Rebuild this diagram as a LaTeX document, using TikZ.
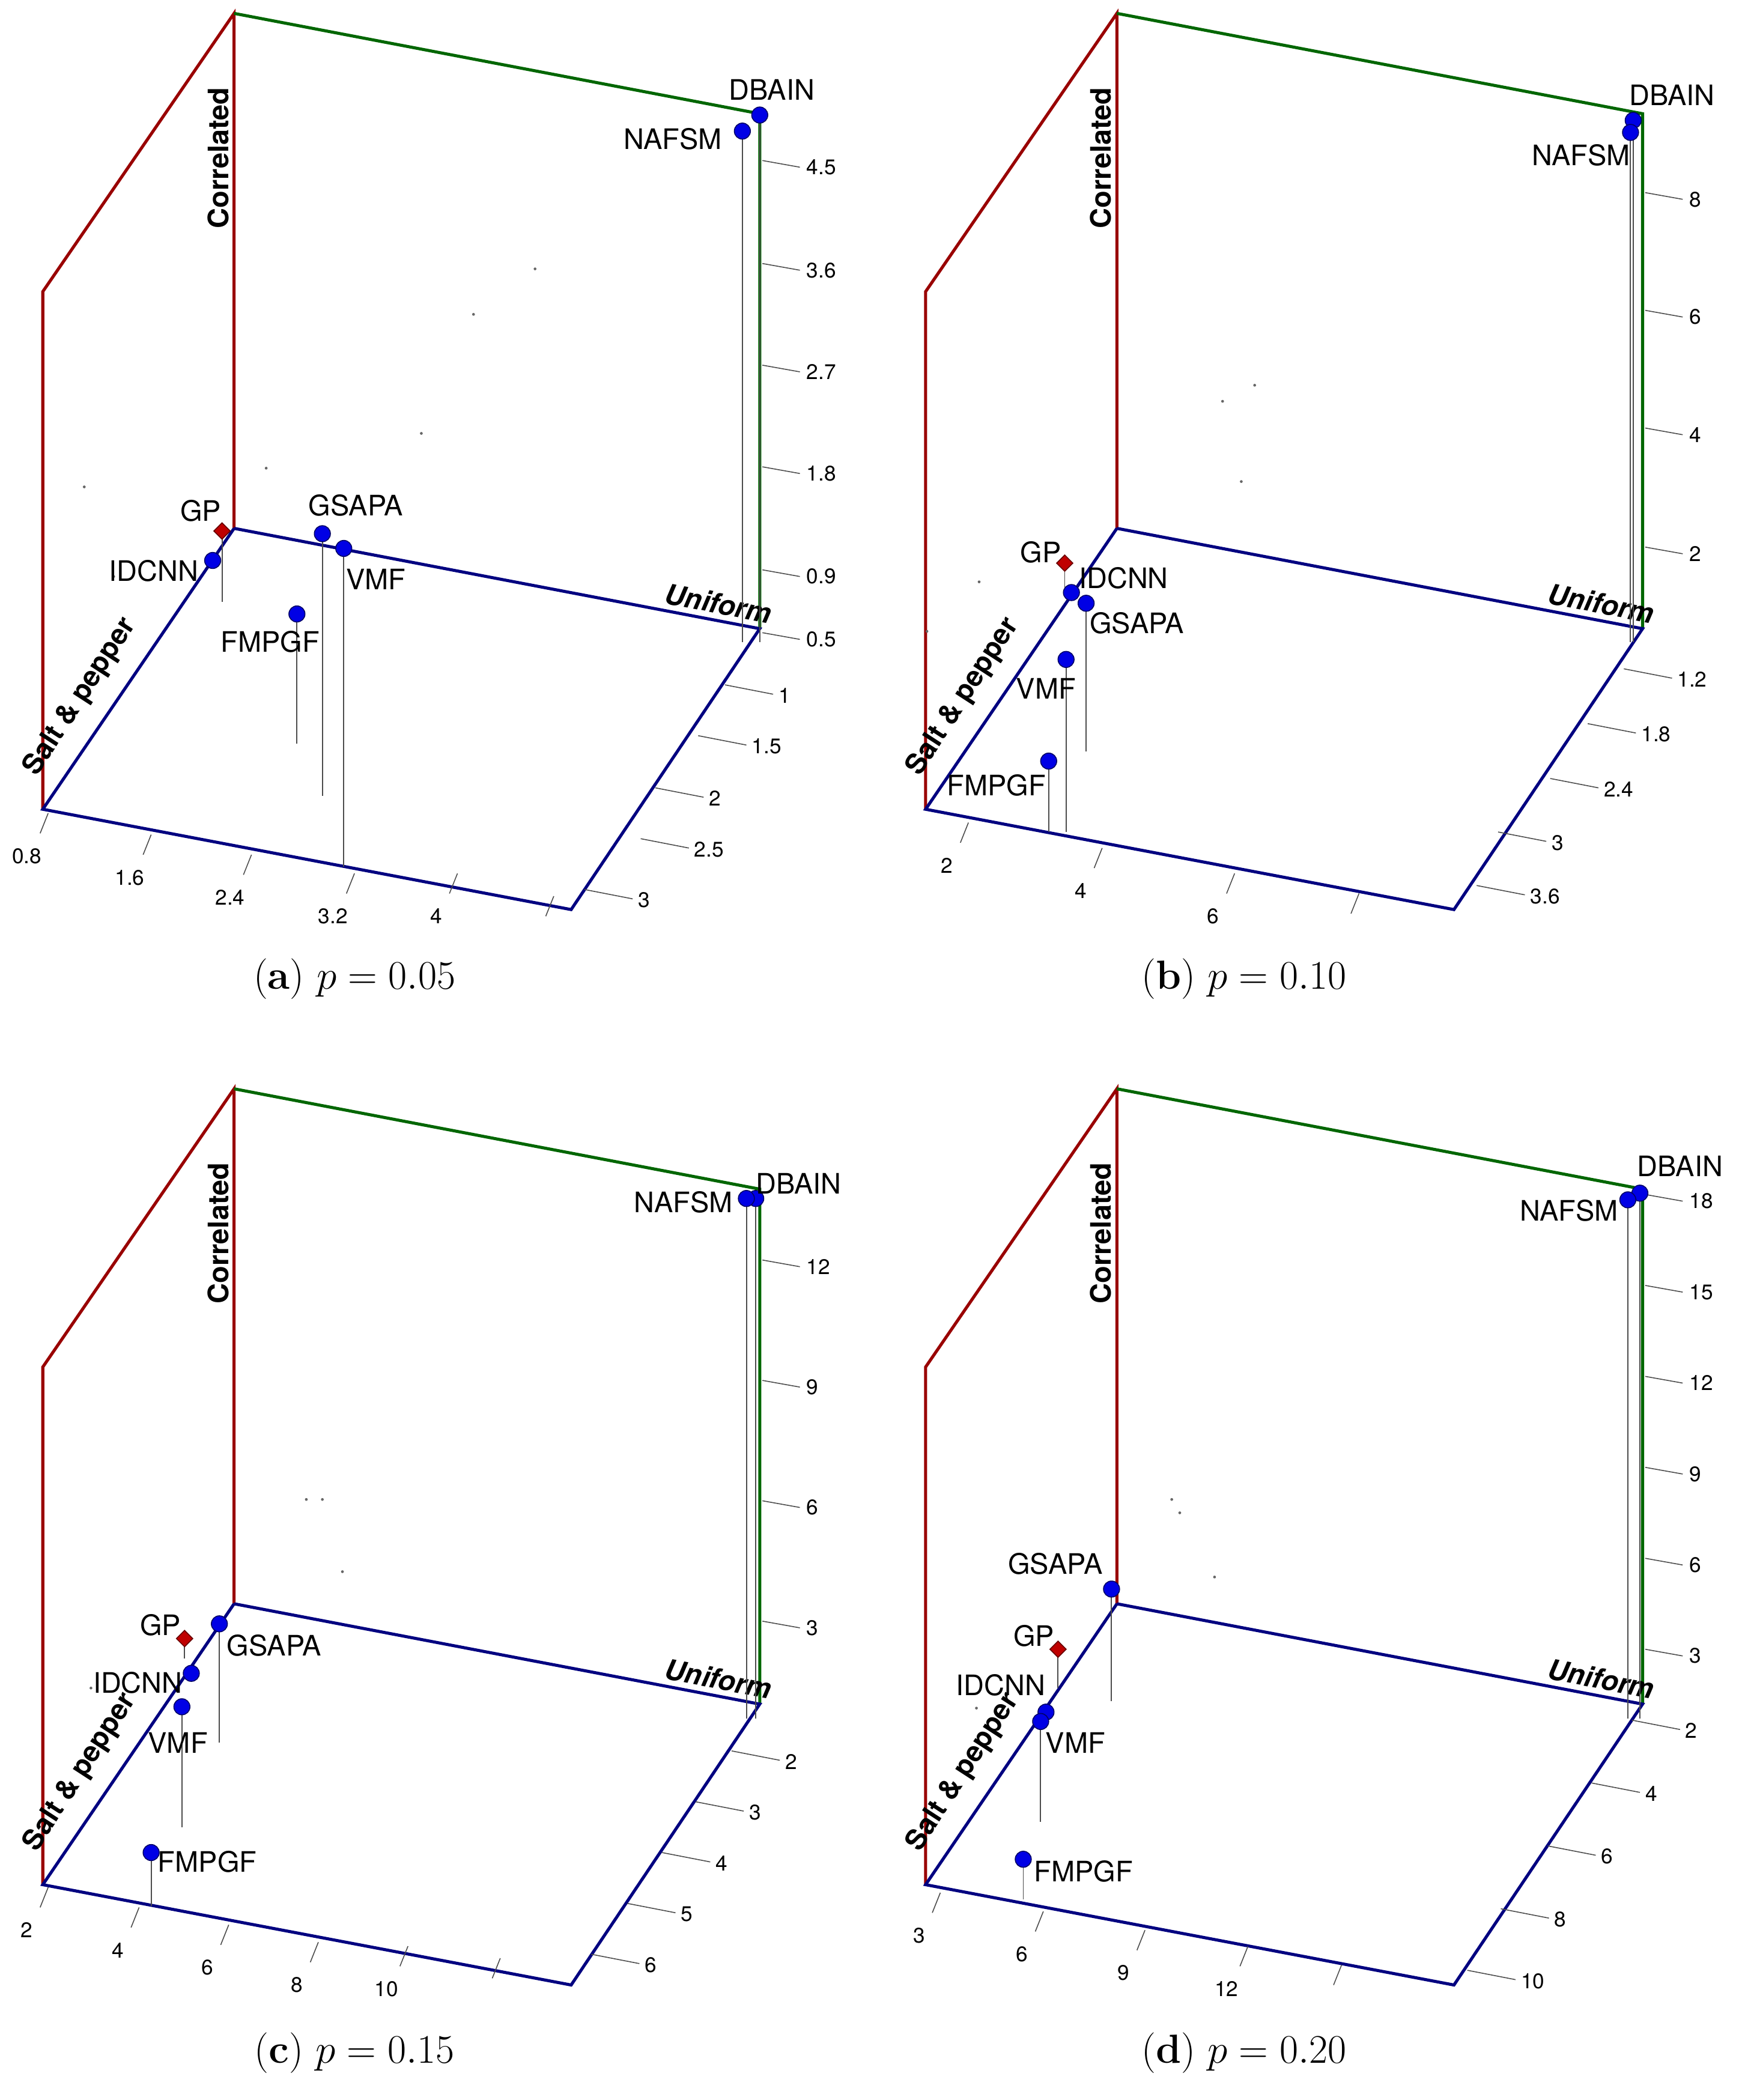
\documentclass[tikz,border=0pt]{standalone}
\usepackage{fontspec}
\setsansfont{TeX Gyre Heros}
\usetikzlibrary{shapes.geometric}
\begin{document}
\begin{tikzpicture}[x=0.02cm,y=-0.02cm,
  edgeR/.style={draw=red!60!black,line width=1.3pt},
  edgeG/.style={draw=green!40!black,line width=1.3pt},
  edgeB/.style={draw=blue!50!black,line width=1.3pt},
  tk/.style={draw=black!70,line width=0.4pt},
  tl/.style={font=\sffamily\small,inner sep=1pt},
  lbl/.style={font=\sffamily\large,inner sep=1pt},
  stem/.style={draw=black!70,line width=0.5pt},
  pt/.style={circle,fill=blue!90!black,draw=blue!40!black,minimum size=0.24cm,inner sep=0pt},
  gp/.style={diamond,fill=red!75!black,draw=red!40!black,minimum size=0.25cm,inner sep=0pt},
  ax/.style={font=\sffamily\bfseries\large,inner sep=1pt},
  captext/.style={font=\LARGE,inner sep=0pt},
  dot/.style={circle,fill=black!60,inner sep=0pt,minimum size=1.2pt}]
\path[use as bounding box] (0,0) rectangle (1300,1570);
\newcommand{\frameaxes}{%
  \coordinate (A) at (175,10); \coordinate (B) at (568,85);
  \coordinate (C) at (175,395); \coordinate (D) at (568,470);
  \coordinate (E) at (32,218); \coordinate (F) at (32,605);
  \coordinate (G) at (427,680);
  \draw[edgeR] (F) -- (E) -- (A) -- (C);
  \draw[edgeG] (A) -- (B) -- (D);
  \draw[edgeB] (C) -- (D) -- (G) -- (F) -- (C);
  \node[ax,rotate=90] (lc) at (163,118) {Correlated};
  \node[ax,rotate=-11] (lu) at (537,451) {\itshape Uniform};
  \node[ax,rotate=57] (ls) at (60,521) {Salt \& pepper};}
\newcommand{\zt}[2]{\draw[tk] (570,#1-5) -- (598,#1); \node[tl,anchor=west] at (601,#1) {#2};}
\newcommand{\yt}[3]{\draw[tk] (#1-48,#2-8) -- (#1-12,#2-1); \node[tl,anchor=west] at (#1-10,#2) {#3};}
\newcommand{\xt}[3]{\draw[tk] (#1+16,#2-32) -- (#1+10,#2-17); \node[tl] at (#1,#2) {#3};}
\newcommand{\pnt}[6]{\draw[stem] (#2,#3) -- (#2,#4); \node[pt] (#1) at (#2,#3) {}; \node[lbl] at (#5,#6) {#1};}
\newcommand{\gpnt}[5]{\draw[stem] (#1,#2) -- (#1,#3); \node[gp] (gp) at (#1,#2) {}; \node[lbl] at (#4,#5) {GP};}
% (a)
\begin{scope}
\frameaxes
\zt{125}{4.5}\zt{202}{3.6}\zt{278}{2.7}\zt{354}{1.8}\zt{431}{0.9}\zt{478}{0.5}
\yt{590}{520}{1}\yt{570}{558}{1.5}\yt{538}{597}{2}\yt{527}{635}{2.5}\yt{485}{673}{3}
\xt{20}{640}{0.8}\xt{97}{656}{1.6}\xt{172}{671}{2.4}\xt{249}{685}{3.2}\xt{326}{685}{4}
\draw[tk] (414,670) -- (408,685);
\foreach \p in {(400,201),(354,235),(315,324),(199,350),(63,364),(85,431)} \node[dot] at \p {};
\pnt{NAFSM}{555}{98}{480}{503}{104}
\pnt{DBAIN}{568}{86}{480}{577}{67}
\gpnt{166}{397}{450}{150}{382}
\pnt{IDCNN}{159}{419}{419}{115}{427}
\pnt{GSAPA}{241}{399}{595}{266}{378}
\pnt{VMF}{257}{410}{648}{281}{433}
\pnt{FMPGF}{222}{459}{556}{202}{480}
\node[captext] (ca) at (265,732) {(\textbf{a}) $p = 0.05$};
\end{scope}
% (b)
\begin{scope}[shift={(660,0)}]
\frameaxes
\zt{149}{8}\zt{237}{6}\zt{325}{4}\zt{414}{2}
\yt{602}{508}{1.2}\yt{575}{549}{1.8}\yt{547}{590}{2.4}\yt{508}{630}{3}\yt{492}{670}{3.6}
\xt{48}{647}{2}\xt{148}{666}{4}\xt{247}{685}{6}
\draw[tk] (356,668) -- (350,683);
\foreach \p in {(278,288),(254,300),(268,360),(72,435),(33,472)} \node[dot] at \p {};
\pnt{DBAIN}{561}{90}{480}{590}{71}
\pnt{NAFSM}{559}{99}{480}{522}{116}
\gpnt{136}{421}{440}{118}{413}
\pnt{IDCNN}{141}{443}{443}{180}{432}
\pnt{GSAPA}{152}{451}{562}{190}{466}
\pnt{VMF}{137}{493}{622}{122}{515}
\pnt{FMPGF}{124}{569}{622}{85}{587}
\node[captext] (cb) at (270,732) {(\textbf{b}) $p = 0.10$};
\end{scope}
% (c)
\begin{scope}[shift={(0,804)}]
\frameaxes
\zt{143}{12}\zt{233}{9}\zt{323}{6}\zt{413}{3}
\yt{595}{513}{2}\yt{568}{551}{3}\yt{543}{589}{4}\yt{517}{627}{5}\yt{490}{665}{6}
\xt{20}{639}{2}\xt{88}{654}{4}\xt{155}{667}{6}\xt{222}{680}{8}\xt{289}{683}{10}
\draw[tk] (374,660) -- (368,675);
\foreach \p in {(229,317),(241,317),(256,371),(68,458)} \node[dot] at \p {};
\pnt{DBAIN}{565}{92}{481}{597}{81}
\pnt{NAFSM}{558}{92}{481}{511}{95}
\gpnt{138}{421}{436}{120}{411}
\pnt{GSAPA}{164}{410}{499}{205}{426}
\pnt{IDCNN}{143}{447}{447}{103}{454}
\pnt{VMF}{136}{472}{562}{133}{499}
\pnt{FMPGF}{113}{581}{621}{155}{588}
\node[captext] (cc) at (265,731) {(\textbf{c}) $p = 0.15$};
\end{scope}
% (d)
\begin{scope}[shift={(660,804)}]
\frameaxes
\zt{94}{18}\zt{162}{15}\zt{230}{12}\zt{298}{9}\zt{366}{6}\zt{434}{3}
\yt{608}{490}{2}\yt{578}{537}{4}\yt{545}{584}{6}\yt{510}{631}{8}\yt{485}{677}{10}
\xt{27}{643}{3}\xt{104}{657}{6}\xt{180}{671}{9}\xt{257}{683}{12}
\draw[tk] (343,665) -- (337,680);
\foreach \p in {(216,317),(222,327),(248,375),(70,473)} \node[dot] at \p {};
\pnt{DBAIN}{566}{88}{481}{596}{68}
\pnt{NAFSM}{557}{93}{481}{513}{101}
\pnt{GSAPA}{171}{384}{468}{129}{365}
\gpnt{131}{429}{458}{113}{419}
\pnt{IDCNN}{122}{476}{476}{88}{456}
\pnt{VMF}{118}{483}{558}{144}{499}
\pnt{FMPGF}{105}{586}{616}{150}{595}
\node[captext] (cd) at (270,731) {(\textbf{d}) $p = 0.20$};
\end{scope}
\end{tikzpicture}
\end{document}
